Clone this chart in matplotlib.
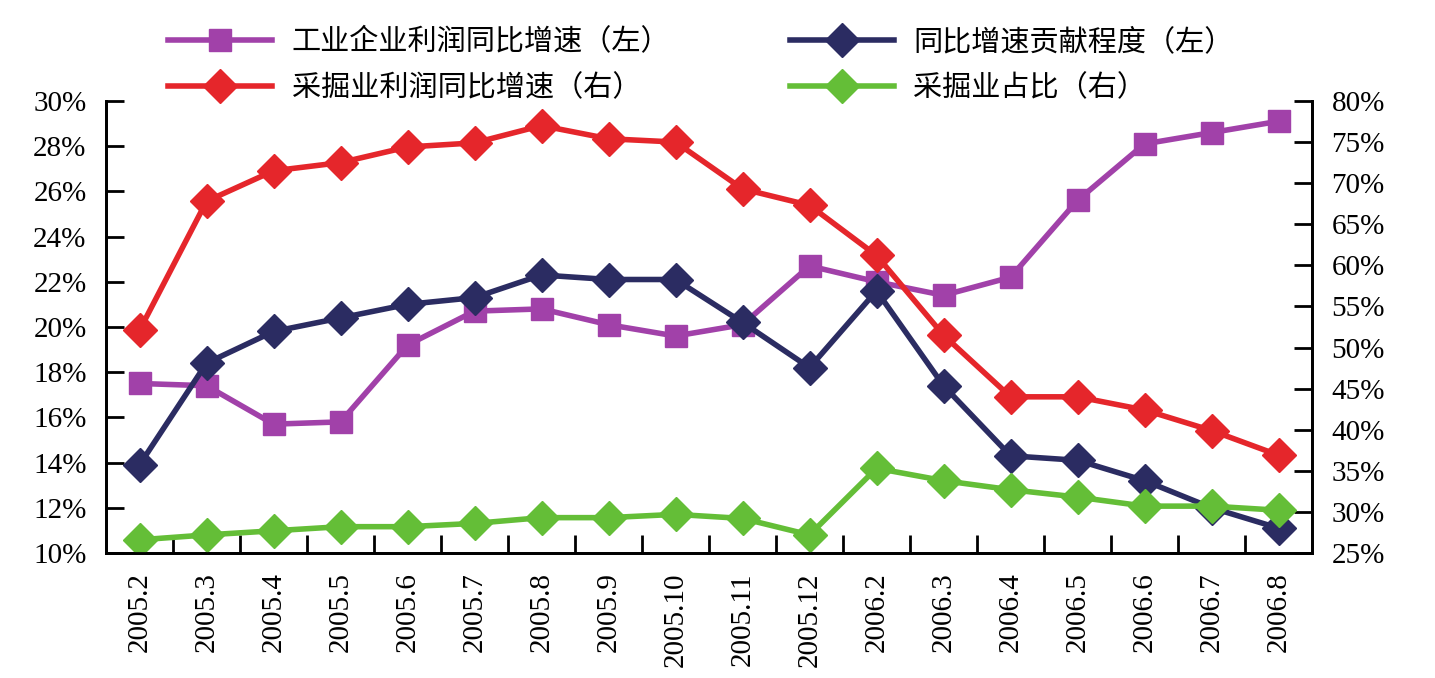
import matplotlib
matplotlib.use("Agg")
from matplotlib import pyplot as plt
from matplotlib.ticker import FixedLocator

plt.rcParams['font.family'] = ['Liberation Serif', 'Noto Sans CJK SC', 'DejaVu Sans']

months = ["2005.2", "2005.3", "2005.4", "2005.5", "2005.6", "2005.7", "2005.8",
          "2005.9", "2005.10", "2005.11", "2005.12", "2006.2", "2006.3", "2006.4",
          "2006.5", "2006.6", "2006.7", "2006.8"]

# left axis (%)
industry_growth = [17.5, 17.4, 15.7, 15.8, 19.2, 20.7, 20.8, 20.1, 19.6, 20.1,
                   22.7, 22.0, 21.4, 22.2, 25.6, 28.1, 28.6, 29.1]
contribution = [13.9, 18.4, 19.8, 20.4, 21.0, 21.3, 22.3, 22.1, 22.1, 20.2,
                18.2, 21.6, 17.4, 14.3, 14.1, 13.2, 12.0, 11.1]
# right axis (%)
mining_growth = [52.1, 67.8, 71.5, 72.5, 74.4, 74.9, 77.0, 75.4, 75.0, 69.3,
                 67.3, 61.2, 51.5, 44.0, 44.0, 42.4, 39.9, 36.9]
mining_share = [26.6, 27.2, 27.7, 28.2, 28.2, 28.6, 29.3, 29.3, 29.7, 29.2,
                27.2, 35.3, 33.8, 32.7, 31.8, 30.7, 30.7, 30.2]

left_ticks = list(range(10, 31, 2))
right_ticks = list(range(25, 81, 5))

purple = "#A141A9"
navy = "#2B2C62"
red = "#E5262B"
green = "#64BE37"

fig = plt.figure(figsize=(14.35, 6.78), dpi=100)
ax = fig.add_axes([0.0739, 0.1844, 0.8404, 0.6667])
ax2 = ax.twinx()

x = list(range(len(months)))
l1, = ax.plot(x, industry_growth, color=purple, lw=4, marker='s', ms=16,
              label="工业企业利润同比增速（左）")
l2, = ax.plot(x, contribution, color=navy, lw=4, marker='D', ms=17,
              label="同比增速贡献程度（左）")
l3, = ax2.plot(x, mining_growth, color=red, lw=4, marker='D', ms=17,
               label="采掘业利润同比增速（右）")
l4, = ax2.plot(x, mining_share, color=green, lw=4, marker='D', ms=17,
               label="采掘业占比（右）")

ax.set_xlim(-0.5, len(months) - 0.5)
ax.set_ylim(10, 30)
ax2.set_ylim(25, 80)
ax.set_yticks(left_ticks)
ax.set_yticklabels([f"{t}%" for t in left_ticks])
ax2.set_yticks(right_ticks)
ax2.set_yticklabels([f"{t}%" for t in right_ticks])

ax.set_xticks(x)
ax.set_xticklabels(months, rotation=90)
ax.xaxis.set_minor_locator(FixedLocator([i + 0.5 for i in range(len(months) - 1)]))
ax.tick_params(axis='x', which='major', length=0, pad=14, labelsize=21)
ax.tick_params(axis='x', which='minor', direction='in', length=13, width=2)
ax.tick_params(axis='y', direction='in', length=13, width=2, labelsize=21, pad=14)
ax2.tick_params(axis='y', direction='in', length=13, width=2, labelsize=21, pad=14)

for a in (ax, ax2):
    a.spines['top'].set_visible(False)
    for s in ('left', 'right', 'bottom'):
        a.spines[s].set_linewidth(2)

fig.legend([l1, l3, l2, l4], [l.get_label() for l in (l1, l3, l2, l4)],
           ncol=2, loc='upper left', bbox_to_anchor=(0.117, 0.96),
           frameon=False, handlelength=3.56, handletextpad=0.68,
           columnspacing=4.1, labelspacing=0.56, borderpad=0, borderaxespad=0,
           prop={'family': ['Noto Sans CJK SC'], 'size': 21})

fig.savefig("out.png", dpi=100)
